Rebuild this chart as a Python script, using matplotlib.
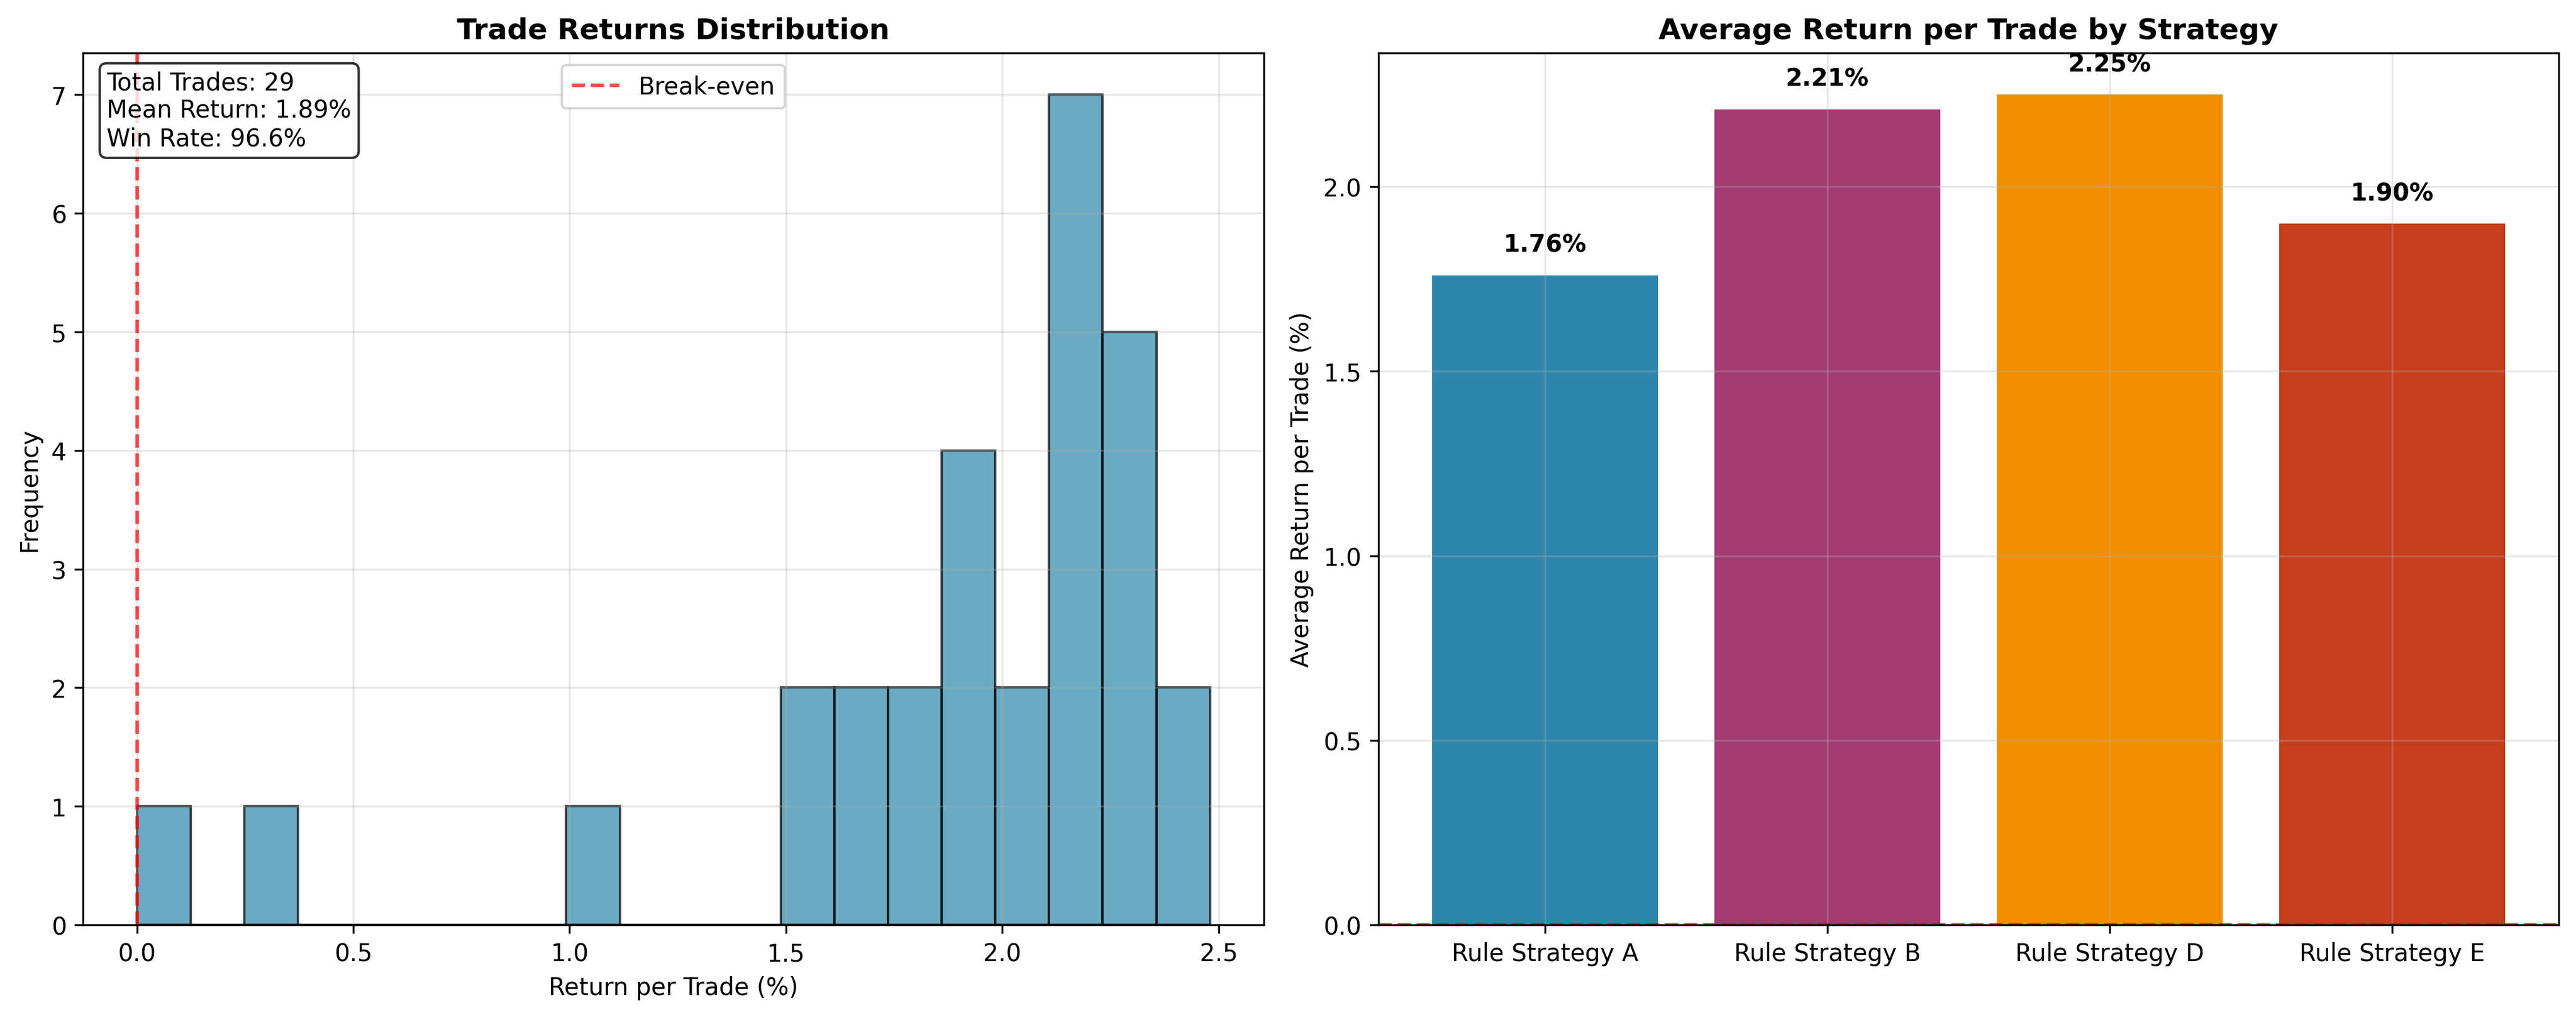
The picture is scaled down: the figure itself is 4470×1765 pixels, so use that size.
import matplotlib
matplotlib.use("Agg")
import matplotlib.pyplot as plt
import numpy as np

# histogram data (20 bins)
bin_lo = 0.0
bin_hi = 2.48
hist_counts = [1, 0, 1, 0, 0, 0, 0, 0, 1, 0, 0, 0, 2, 2, 2, 4, 2, 7, 5, 2]

strategies = ["Rule Strategy A", "Rule Strategy B", "Rule Strategy D", "Rule Strategy E"]
avg_returns = [1.76, 2.21, 2.25, 1.90]
bar_colors = ["#2E86AB", "#A23B72", "#F18F01", "#C73E1D"]

fig, (ax1, ax2) = plt.subplots(1, 2, figsize=(15, 6))

edges = np.linspace(bin_lo, bin_hi, len(hist_counts) + 1)
centers = (edges[:-1] + edges[1:]) / 2
ax1.hist(centers, bins=edges, weights=hist_counts, color="#2E86AB", alpha=0.7, edgecolor="black")
ax1.axvline(0, color="red", linestyle="--", alpha=0.7, label="Break-even")
ax1.set_title("Trade Returns Distribution", fontweight="bold")
ax1.set_xlabel("Return per Trade (%)")
ax1.set_ylabel("Frequency")
ax1.grid(True, alpha=0.3)
ax1.legend(loc="upper center")
ax1.text(0.02, 0.98, "Total Trades: 29\nMean Return: 1.89%\nWin Rate: 96.6%",
         transform=ax1.transAxes, va="top",
         bbox=dict(boxstyle="round", facecolor="white", alpha=0.8))

bars = ax2.bar(strategies, avg_returns, color=bar_colors)
for b, v in zip(bars, avg_returns):
    ax2.text(b.get_x() + b.get_width() / 2, v + 0.05, f"{v:.2f}%",
             ha="center", va="bottom", fontweight="bold")
ax2.axhline(0, color="red", linestyle="--", alpha=0.7)
ax2.set_title("Average Return per Trade by Strategy", fontweight="bold")
ax2.set_ylabel("Average Return per Trade (%)")
ax2.grid(True, alpha=0.3)

plt.tight_layout()
plt.savefig("out.png", dpi=300, bbox_inches="tight")
